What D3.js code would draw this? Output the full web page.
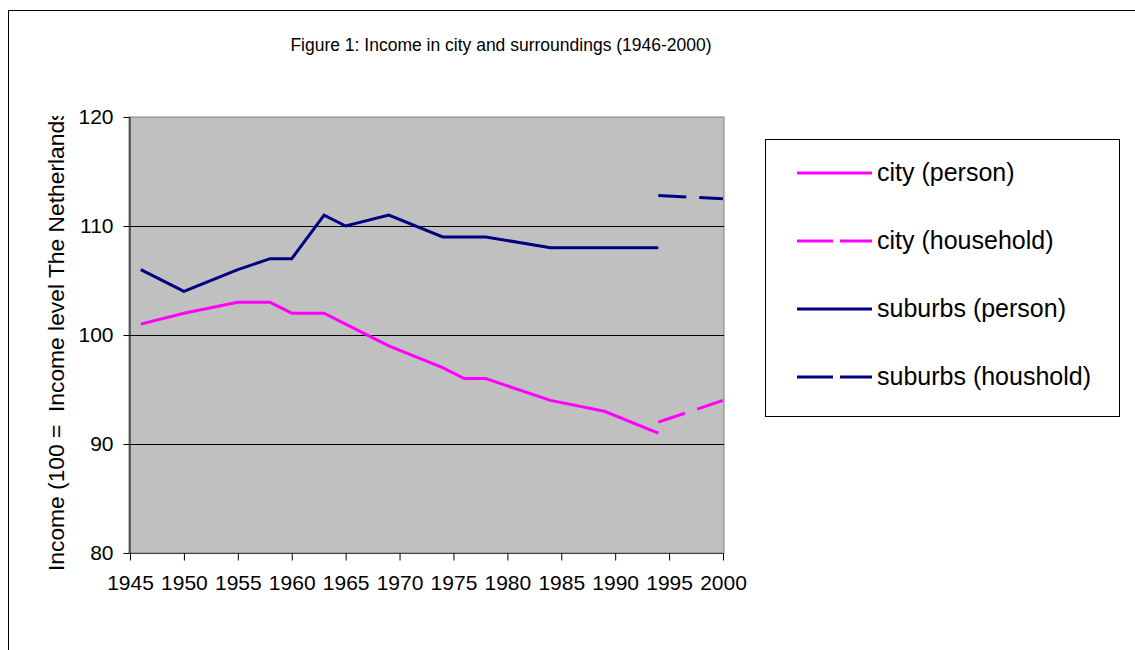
<!DOCTYPE html>
<html>
<head>
<meta charset="utf-8">
<script src="https://cdn.jsdelivr.net/npm/d3@7"></script>
<style>
	body { margin: 0; background: #fff; }
	svg { display: block; font-family: "Liberation Sans", Arial, sans-serif; }
</style>
</head>
<body>
<svg id="chart" width="1135" height="650"></svg>
<script>
////////////////////////////////////////////////////////////
//// Data //////////////////////////////////////////////////
////////////////////////////////////////////////////////////
const personYears = [1946, 1950, 1955, 1958, 1960, 1963, 1965, 1969, 1974, 1976, 1978, 1984, 1989, 1994];
const cityPerson = [101, 102, 103, 103, 102, 102, 101, 99, 97, 96, 96, 94, 93, 91];
const suburbsPerson = [106, 104, 106, 107, 107, 111, 110, 111, 109, 109, 109, 108, 108, 108];
const householdYears = [1994, 2000];
const cityHousehold = [92, 94];
const suburbsHousehold = [112.8, 112.5];
const xTicks = [1945, 1950, 1955, 1960, 1965, 1970, 1975, 1980, 1985, 1990, 1995, 2000];
const yTicks = [80, 90, 100, 110, 120];

const series = [
	{ name: "city (person)", years: personYears, values: cityPerson, color: "#ff00ff", dashed: false },
	{ name: "city (household)", years: householdYears, values: cityHousehold, color: "#ff00ff", dashed: true },
	{ name: "suburbs (person)", years: personYears, values: suburbsPerson, color: "#000080", dashed: false },
	{ name: "suburbs (houshold)", years: householdYears, values: suburbsHousehold, color: "#000080", dashed: true }
];

////////////////////////////////////////////////////////////
//// Setup /////////////////////////////////////////////////
////////////////////////////////////////////////////////////
const plot = { left: 129, right: 724, top: 117, bottom: 553 };
const font = "Liberation Sans, Arial, sans-serif";
const svg = d3.select("#chart");

const x = d3.scaleLinear().domain([1945, 2000]).range([plot.left + 1, plot.right - 1]);
const y = d3.scaleLinear().domain([80, 120]).range([plot.bottom, plot.top]);

const line = d3.line().x(d => x(d[0])).y(d => y(d[1]));

////////////////////////////////////////////////////////////
//// Render ////////////////////////////////////////////////
////////////////////////////////////////////////////////////
// Outer chart frame
svg.append("rect")
	.attr("x", 8.5).attr("y", 10.5)
	.attr("width", 1200).attr("height", 700)
	.attr("fill", "none").attr("stroke", "#000");

// Title
svg.append("text")
	.attr("x", 501).attr("y", 51)
	.attr("text-anchor", "middle")
	.attr("font-size", 17.5)
	.text("Figure 1: Income in city and surroundings (1946-2000)");

// Plot background
svg.append("rect")
	.attr("x", plot.left).attr("y", plot.top)
	.attr("width", plot.right - plot.left).attr("height", plot.bottom - plot.top)
	.attr("fill", "#c0c0c0")
	.attr("stroke", "#808080");

// Gridlines
svg.append("g")
	.selectAll("line")
	.data(yTicks.filter(d => d > 80 && d < 120))
	.join("line")
	.attr("x1", plot.left).attr("x2", plot.right)
	.attr("y1", d => Math.round(y(d)) + 0.5).attr("y2", d => Math.round(y(d)) + 0.5)
	.attr("stroke", "#000");

// Y axis
svg.append("g")
	.attr("transform", `translate(${plot.left + 0.5},0)`)
	.call(d3.axisLeft(y).tickValues(yTicks).tickSize(6).tickSizeOuter(0).tickPadding(10))
	.call(g => g.select(".domain").attr("stroke", "#000"))
	.call(g => g.selectAll("text").attr("font-size", 21).attr("fill", "#000").attr("font-family", font));

// X axis
svg.append("g")
	.attr("transform", `translate(0,${plot.bottom + 0.5})`)
	.call(d3.axisBottom(x).tickValues(xTicks).tickFormat(d3.format("d")).tickSize(7).tickSizeOuter(0).tickPadding(15))
	.call(g => g.select(".domain").attr("stroke", "#404040").attr("d", `M${plot.left},0H${plot.right}`))
	.call(g => g.selectAll("text").attr("font-size", 21).attr("fill", "#000").attr("font-family", font));

// Y axis title (clipped at the top like the original)
svg.append("clipPath").attr("id", "ytitle-clip")
	.append("rect").attr("x", 0).attr("y", 116).attr("width", 120).attr("height", 500);
svg.append("g")
	.attr("clip-path", "url(#ytitle-clip)")
	.append("text")
	.attr("transform", "translate(64,571) rotate(-90)")
	.attr("font-size", 22.8)
	.style("white-space", "pre")
	.text("Income (100 =  Income level The Netherlands");

// Series lines
svg.append("g")
	.selectAll("path")
	.data(series)
	.join("path")
	.attr("fill", "none")
	.attr("stroke", d => d.color)
	.attr("stroke-width", 3)
	.attr("stroke-dasharray", d => d.dashed ? "28,13" : null)
	.attr("d", d => line(d.years.map((yr, i) => [yr, d.values[i]])));

// Legend
const legend = svg.append("g");
legend.append("rect")
	.attr("x", 765.5).attr("y", 139.5)
	.attr("width", 354).attr("height", 277)
	.attr("fill", "#fff").attr("stroke", "#000");

const rowY = d3.scalePoint().domain(series.map(d => d.name)).range([173, 377]);
const item = legend.selectAll(".item")
	.data(series)
	.join("g")
	.attr("class", "item")
	.attr("transform", d => `translate(0,${rowY(d.name)})`);
item.append("line")
	.attr("x1", 797).attr("x2", 872)
	.attr("stroke", d => d.color)
	.attr("stroke-width", 3)
	.attr("stroke-dasharray", d => d.dashed ? "36,7" : null);
item.append("text")
	.attr("x", 877).attr("y", 8)
	.attr("font-size", 25)
	.text(d => d.name);
</script>
</body>
</html>
